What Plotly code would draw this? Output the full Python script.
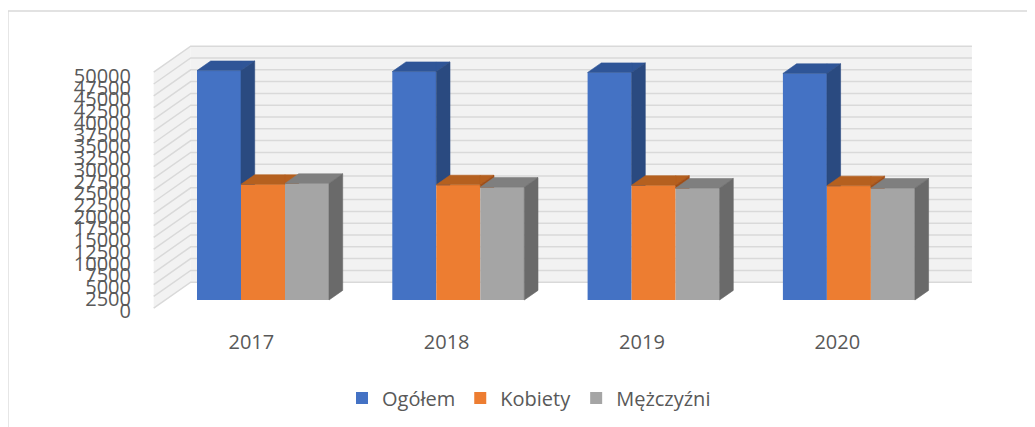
import plotly.graph_objects as go

# ---------------- data ----------------
years = ["2017", "2018", "2019", "2020"]
series_names = ["Ogółem", "Kobiety", "Mężczyźni"]
ogolem = [48600, 48400, 48200, 48000]
kobiety = [24500, 24400, 24300, 24200]
mezczyzni = [24700, 23900, 23700, 23700]
y_ticks = list(range(0, 50001, 2500))
y_tick_text = [str(v) for v in y_ticks]
y_max = 50000

series_values = [ogolem, kobiety, mezczyzni]
front_colors = ["#4472C4", "#ED7D31", "#A5A5A5"]
top_colors = ["#2F5597", "#B5601F", "#7F7F7F"]
side_colors = ["#2A4A80", "#A04E17", "#6A6A6A"]
text_color = "#595959"
FONT = "Open Sans"

# ---------------- layout geometry ----------------
# the page body has an 8px margin, so the figure starts at (8, 8) of the window
OFF = 8
W, H = 1035 - OFF, 427 - OFF


def fx(px):   # window px -> figure px
    return px - OFF


plot_l, plot_r, plot_t, plot_b = fx(132), W, fx(11), fx(328)
ML, MR, MT, MB = plot_l, W - plot_r, plot_t, H - plot_b

px_per_cat = 195.3          # px between category groups
cat0_px = fx(263.0)         # px of first group centre (front plane)
px_per_val = 236.0 / 50000  # vertical px per value unit (bar plane)
base_px = fx(300.0)         # px of value 0 on bar front plane

x_range = [(plot_l - cat0_px) / px_per_cat, (plot_r - cat0_px) / px_per_cat]
y_range = [-(plot_b - base_px) / px_per_val, (base_px - plot_t) / px_per_val]

# label axis (front edge of the side wall)
lab0_px, labmax_px = fx(310.5), fx(76.0)
s2 = (lab0_px - labmax_px) / y_max
y2_range = [-(plot_b - lab0_px) / s2, (lab0_px - plot_t) / s2]

# oblique depth projection (full floor depth)
DX = 37.0 / px_per_cat
DY = 26.0 / px_per_val
z_front, z_back = -0.315, 0.685
bar_depth = 0.37

n_ser = len(series_values)
bar_w = 44.0 / px_per_cat
group_w = n_ser * bar_w
bargap = 1 - group_w
wall_l, wall_r = -0.5, len(years) - 0.5


def proj(x, v, z):
    return x + z * DX, v + z * DY


def clip(poly, axis, val, keep_ge):
    out = []
    n = len(poly)
    for k in range(n):
        cur, prev = poly[k], poly[k - 1]
        cin = cur[axis] >= val if keep_ge else cur[axis] <= val
        pin = prev[axis] >= val if keep_ge else prev[axis] <= val
        if cin != pin:
            t = (val - prev[axis]) / (cur[axis] - prev[axis])
            out.append((prev[0] + t * (cur[0] - prev[0]), prev[1] + t * (cur[1] - prev[1])))
        if cin:
            out.append(cur)
    return out


fig = go.Figure()

# front faces as real bars
xs_cat = list(range(len(years)))
for j, name in enumerate(series_names):
    fig.add_trace(go.Bar(
        x=xs_cat, y=series_values[j], name=name,
        marker=dict(color=front_colors[j], line=dict(width=0)),
        hoverinfo="skip",
    ))

# top and side faces, painter order left -> right
bdx, bdy = bar_depth * DX, bar_depth * DY
for j in range(n_ser):
    top_x, top_y, side_x, side_y = [], [], [], []
    for i in xs_cat:
        h = series_values[j][i]
        xl = i - group_w / 2 + j * bar_w
        xr = xl + bar_w
        top = [(xl, h), (xr, h), (xr + bdx, h + bdy), (xl + bdx, h + bdy)]
        side = [(xr, 0), (xr + bdx, bdy), (xr + bdx, h + bdy), (xr, h)]
        if j < n_ser - 1:
            hn = series_values[j + 1][i]
            tops = [clip(top, 0, xr, False), clip(clip(top, 0, xr, True), 1, hn, True)]
            sides = [clip(side, 1, hn, True)]
        else:
            tops, sides = [top], [side]
        for p in tops:
            if len(p) >= 3:
                top_x += [q[0] for q in p] + [p[0][0], None]
                top_y += [q[1] for q in p] + [p[0][1], None]
        for p in sides:
            if len(p) >= 3:
                side_x += [q[0] for q in p] + [p[0][0], None]
                side_y += [q[1] for q in p] + [p[0][1], None]
    for fxs, fys, col in ((top_x, top_y, top_colors[j]), (side_x, side_y, side_colors[j])):
        fig.add_trace(go.Scatter(
            x=fxs, y=fys, mode="lines", fill="toself", fillcolor=col,
            line=dict(width=0.6, color=col), hoverinfo="skip", showlegend=False,
        ))

# dummy trace for the label axis
fig.add_trace(go.Scatter(x=[], y=[], yaxis="y2", showlegend=False, hoverinfo="skip"))

# walls and gridlines
shapes = []


def path(pts, close=True):
    s = "M " + " L ".join(f"{a},{b}" for a, b in pts)
    return s + (" Z" if close else "")


bw = [proj(wall_l, 0, z_back), proj(wall_r, 0, z_back), proj(wall_r, y_max, z_back), proj(wall_l, y_max, z_back)]
sw = [proj(wall_l, 0, z_front), proj(wall_l, 0, z_back), proj(wall_l, y_max, z_back), proj(wall_l, y_max, z_front)]
for poly in (bw, sw):
    shapes.append(dict(type="path", xref="x", yref="y", path=path(poly), fillcolor="#F2F2F2",
                       line=dict(width=0), layer="below"))
for v in y_ticks:
    pts = [proj(wall_l, v, z_front), proj(wall_l, v, z_back), proj(wall_r, v, z_back)]
    shapes.append(dict(type="path", xref="x", yref="y", path=path(pts, close=False),
                       line=dict(color="#D9D9D9", width=1.5), layer="below"))

# chart border
pw, ph = plot_r - plot_l, plot_b - plot_t
shapes.append(dict(type="rect", xref="paper", yref="paper",
                   x0=(fx(8) - plot_l) / pw, x1=(fx(1045) - plot_l) / pw,
                   y0=(plot_b - fx(440)) / ph, y1=(plot_b - fx(11)) / ph,
                   line=dict(color="#D9D9D9", width=1.3), fillcolor="rgba(0,0,0,0)", layer="below"))

fig.update_layout(
    width=W, height=H,
    margin=dict(l=ML, r=MR, t=MT, b=MB, pad=0),
    paper_bgcolor="white", plot_bgcolor="white",
    barmode="group", bargap=bargap, bargroupgap=0,
    font=dict(family=FONT, size=20, color=text_color),
    shapes=shapes,
    xaxis=dict(range=x_range, showgrid=False, zeroline=False, showline=False, ticks="",
               tickvals=[i + z_front * DX for i in xs_cat], ticktext=years,
               tickfont=dict(family=FONT, size=20, color=text_color), fixedrange=True),
    yaxis=dict(range=y_range, visible=False, fixedrange=True),
    yaxis2=dict(range=y2_range, overlaying="y", side="left", showgrid=False, zeroline=False,
                showline=False, ticks="", tickvals=y_ticks, ticktext=y_tick_text,
                tickfont=dict(family=FONT, size=20, color=text_color), fixedrange=True),
    legend=dict(orientation="h", x=(fx(529) - plot_l) / pw, xanchor="center",
                y=(plot_b - fx(398)) / ph, yanchor="middle",
                font=dict(family=FONT, size=20, color=text_color),
                bgcolor="rgba(0,0,0,0)", traceorder="normal"),
    showlegend=True,
)

fig.write_html("out.html")
